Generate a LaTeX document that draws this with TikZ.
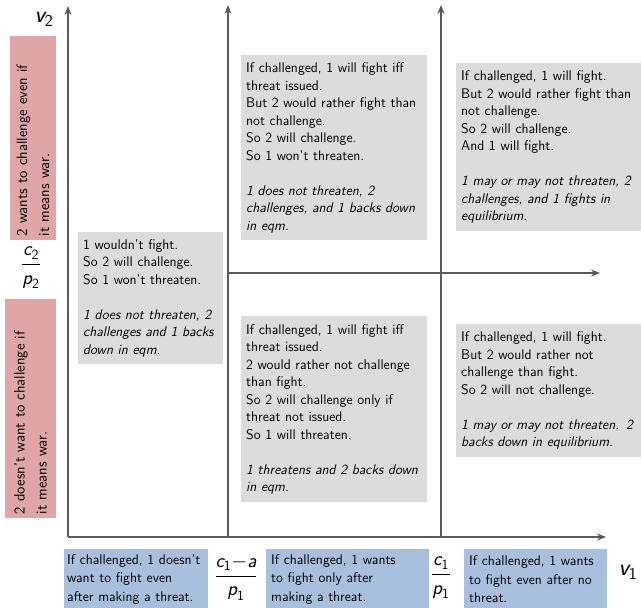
\documentclass[tikz,border=0pt]{standalone}
\usepackage{amsmath}
\usepackage{fontspec}
\usepackage{xcolor}
\usetikzlibrary{arrows.meta}
\renewcommand{\familydefault}{\sfdefault}
\definecolor{cgray}{HTML}{DCDCDC}
\definecolor{cpink}{HTML}{E0A6A7}
\definecolor{cblue}{HTML}{A8C0DE}
\definecolor{caxis}{HTML}{5A5A5A}
\newcommand{\mv}[1]{\textsf{\itshape #1}}
\newcommand{\gap}{\\[17.5pt]}

\begin{document}
\begin{tikzpicture}[x=1pt, y=-1pt,
 box/.style={rectangle, anchor=north west, align=left, inner xsep=5pt, inner ysep=4pt,
 font=\fontsize{14}{17.5}\selectfont},
 graybox/.style={box, fill=cgray},
 bluebox/.style={box, fill=cblue, font=\fontsize{14}{18.5}\selectfont},
 pinkbox/.style={rectangle, fill=cpink, rotate=90, align=left, inner xsep=4pt, inner ysep=1pt,
 font=\fontsize{15}{22}\selectfont},
 lab/.style={inner sep=0pt, font=\fontsize{20}{22}\selectfont},
 ax/.style={-{Stealth[length=9pt, width=7pt]}, draw=caxis, line width=1.6pt},
]
 \useasboundingbox (0,0) rectangle (641,608);

 % axes and thresholds
 \coordinate (O) at (68,537);
 \coordinate (Ytop) at (68,6);
 \coordinate (Xend) at (606,537);
 \coordinate (Ab) at (228,537);
 \coordinate (At) at (228,5);
 \coordinate (Bb) at (441,537);
 \coordinate (Bt) at (441,5);
 \coordinate (Hl) at (228,273);
 \coordinate (Hr) at (600,273);
 \draw[ax] (O) -- (Ytop);
 \draw[ax] (O) -- (Xend);
 \draw[ax] (Ab) -- (At);
 \draw[ax] (Bb) -- (Bt);
 \draw[ax] (Hl) -- (Hr);

 % axis labels
 \node[lab, font=\fontsize{24}{24}\selectfont] (v2) at (44,19) {$\mv{v}_{\textsf{2}}$};
 \node[lab, font=\fontsize{24}{24}\selectfont] (v1) at (628,572) {$\mv{v}_{\textsf{1}}$};
 \node[lab] (c2p2) at (31,268) {$\dfrac{\mv{c}_{\textsf{2}}}{\mv{p}_{\textsf{2}}}$};
 \node[lab] (cap1) at (236,578) {$\dfrac{\mv{c}_{\textsf{1}}{-}\mv{a}}{\mv{p}_{\textsf{1}}}$};
 \node[lab] (cp1) at (441,578) {$\dfrac{\mv{c}_{\textsf{1}}}{\mv{p}_{\textsf{1}}}$};

 % player 2 regions
 \node[pinkbox, minimum width=204pt, minimum height=46pt, text width=196pt] (P2hi) at (33,138)
 {2 wants to challenge even if\\it means war.};
 \node[pinkbox, minimum width=219pt, minimum height=51pt, text width=211pt] (P2lo) at (30.5,408.5)
 {2 doesn't want to challenge if\\it means war.};

 % cells
 \node[graybox, text width=135pt, minimum height=132pt] (Cl) at (78,232)
 {1 wouldn't fight.\\So 2 will challenge.\\So 1 won't threaten.\gap
 \itshape 1 does not threaten, 2\\\itshape challenges and 1 backs\\\itshape down in eqm.};
 \node[graybox, text width=176pt, minimum height=185pt] (Cmt) at (241,55)
 {If challenged, 1 will fight iff\\threat issued.\\But 2 would rather fight than\\not challenge.\\So 2 will challenge.\\So 1 won't threaten.\gap
 \itshape 1 does not threaten, 2\\\itshape challenges, and 1 backs down\\\itshape in eqm.};
 \node[graybox, text width=175pt, minimum height=168pt] (Crt) at (456,63)
 {If challenged, 1 will fight.\\But 2 would rather fight than\\not challenge.\\So 2 will challenge.\\And 1 will fight.\gap
 \itshape 1 may or may not threaten, 2\\\itshape challenges, and 1 fights in\\\itshape equilibrium.};
 \node[graybox, text width=176pt, minimum height=186pt] (Cmb) at (241,316)
 {If challenged, 1 will fight iff\\threat issued.\\2 would rather not challenge\\than fight.\\So 2 will challenge only if\\threat not issued.\\So 1 will threaten.\gap
 \itshape 1 threatens and 2 backs down\\\itshape in eqm.};
 \node[graybox, text width=175pt, minimum height=133pt] (Crb) at (456,324)
 {If challenged, 1 will fight.\\But 2 would rather not\\challenge than fight.\\So 2 will not challenge.\gap
 \itshape 1 may or may not threaten. 2\\\itshape backs down in equilibrium.};

 % player 1 regions
 \node[bluebox, text width=138pt, inner xsep=3pt, minimum height=60pt] (B1) at (64,549)
 {If challenged, 1 doesn't\\want to fight even\\after making a threat.};
 \node[bluebox, text width=153pt, minimum height=60pt] (B2) at (266,549)
 {If challenged, 1 wants\\to fight only after\\making a threat.};
 \node[bluebox, text width=133pt, minimum height=60pt] (B3) at (464,549)
 {If challenged, 1 wants\\to fight even after no\\threat.};
\end{tikzpicture}
\end{document}
